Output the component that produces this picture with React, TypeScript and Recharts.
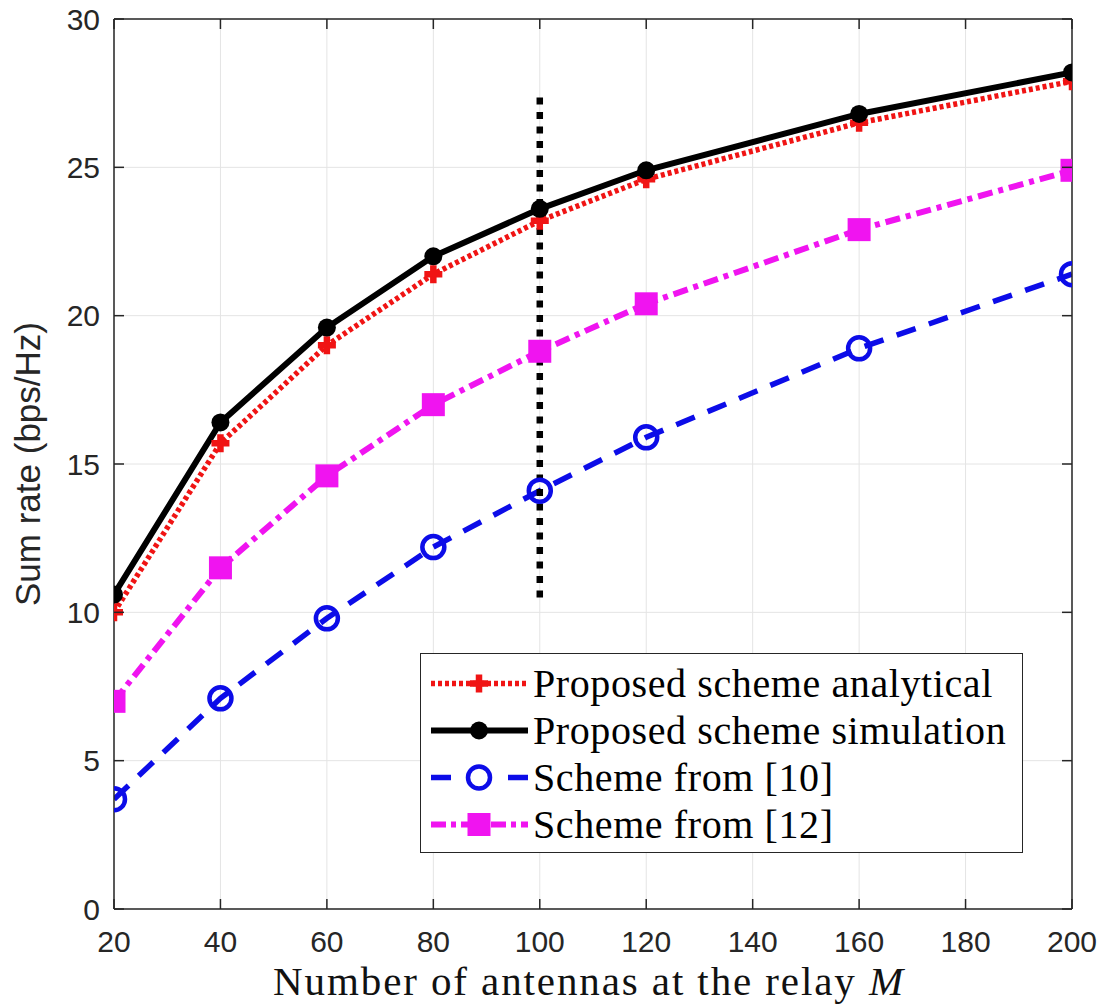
import React from 'react';
import { LineChart, Line, XAxis, YAxis, CartesianGrid, Legend, Label } from 'recharts';

// ---- data ----
const antennas = [20, 40, 60, 80, 100, 120, 160, 200];
const analytical = [10.0, 15.7, 19.0, 21.4, 23.2, 24.6, 26.5, 27.9];
const simulation = [10.6, 16.4, 19.6, 22.0, 23.6, 24.9, 26.8, 28.2];
const scheme10 = [3.7, 7.1, 9.8, 12.2, 14.1, 15.9, 18.9, 21.4];
const scheme12 = [7.0, 11.5, 14.6, 17.0, 18.8, 20.4, 22.9, 24.9];
const xTicks = [20, 40, 60, 80, 100, 120, 140, 160, 180, 200];
const yTicks = [0, 5, 10, 15, 20, 25, 30];
const markerX = [100, 100];
const markerY = [10.5, 27.6];
const seriesNames = [
  'Proposed scheme analytical',
  'Proposed scheme simulation',
  'Scheme from [10]',
  'Scheme from [12]',
];
const xLabelText = 'Number of antennas at the relay ';
const xLabelVar = 'M';
const yLabelText = 'Sum rate (bps/Hz)';

const RED = '#f01414';
const BLACK = '#000000';
const BLUE = '#0c0ce8';
const MAGENTA = '#f014f0';
const AXIS = '#262626';

const rows = antennas.map((m, i) => ({ m, analytical: analytical[i], simulation: simulation[i], s10: scheme10[i], s12: scheme12[i] }));
const markerRows = markerX.map((m, i) => ({ m, v: markerY[i] }));

const TICK_FONT = '"Liberation Sans", Arial, Helvetica, sans-serif';
const SERIF = '"Liberation Serif", "Times New Roman", serif';

const plusPath = (cx: number, cy: number, s: number) => `M${cx - s},${cy}H${cx + s}M${cx},${cy - s}V${cy + s}`;

const PlusDot = (props: any) => {
  const { cx, cy, index } = props;
  if (cx == null || cy == null) return <g key={`p-${index}`} />;
  return <path key={`p-${index}`} d={plusPath(cx, cy, 9)} stroke={RED} strokeWidth={6.5} fill="none" />;
};
const CircleDot = (props: any) => {
  const { cx, cy, index } = props;
  if (cx == null || cy == null) return <g key={`c-${index}`} />;
  return <circle key={`c-${index}`} cx={cx} cy={cy} r={9} fill={BLACK} />;
};
const OpenDot = (props: any) => {
  const { cx, cy, index } = props;
  if (cx == null || cy == null) return <g key={`o-${index}`} />;
  return <circle key={`o-${index}`} cx={cx} cy={cy} r={11} fill="none" stroke={BLUE} strokeWidth={4.5} />;
};
const SquareDot = (props: any) => {
  const { cx, cy, index } = props;
  if (cx == null || cy == null) return <g key={`s-${index}`} />;
  return <rect key={`s-${index}`} x={cx - 11.5} y={cy - 11.5} width={23} height={23} fill={MAGENTA} />;
};

const BottomTick = (props: any) => {
  const { x, y, payload } = props;
  return (
    <g>
      <line x1={x} y1={y} x2={x} y2={y - 10} stroke={AXIS} strokeWidth={1.5} />
      <text x={x} y={y + 32} dy="0.355em" textAnchor="middle" fontSize={30} fontFamily={TICK_FONT} fill={AXIS}>
        {payload.value}
      </text>
    </g>
  );
};
const LeftTick = (props: any) => {
  const { x, y, payload } = props;
  return (
    <g>
      <line x1={x} y1={y} x2={x + 10} y2={y} stroke={AXIS} strokeWidth={1.5} />
      <text x={x - 14} y={y} dy="0.355em" textAnchor="end" fontSize={30} fontFamily={TICK_FONT} fill={AXIS}>
        {payload.value}
      </text>
    </g>
  );
};
const TopTick = (props: any) => {
  const { x, y } = props;
  return <line x1={x} y1={y} x2={x} y2={y + 10} stroke={AXIS} strokeWidth={1.5} />;
};
const RightTick = (props: any) => {
  const { x, y } = props;
  return <line x1={x} y1={y} x2={x - 10} y2={y} stroke={AXIS} strokeWidth={1.5} />;
};

const XLabel = (props: any) => {
  const vb = props.viewBox || { x: 0, y: 0, width: 0, height: 0 };
  const cx = vb.x + vb.width / 2 - 4;
  return (
    <text x={cx} y={vb.y + 86} textAnchor="middle" fontSize={41} fontFamily={SERIF} fill="#111" letterSpacing={1.9}>
      <tspan>{xLabelText}</tspan>
      <tspan fontStyle="italic">{xLabelVar}</tspan>
    </text>
  );
};
const YLabel = (props: any) => {
  const vb = props.viewBox || { x: 0, y: 0, width: 0, height: 0 };
  const cx = vb.x + 27;
  const cy = vb.y + vb.height / 2;
  return (
    <text x={cx} y={cy} transform={`rotate(-90, ${cx}, ${cy})`} textAnchor="middle" dominantBaseline="central" fontSize={35} fontFamily={TICK_FONT} fill={AXIS}>
      {yLabelText}
    </text>
  );
};

const LegendSample = ({ idx }: { idx: number }) => {
  const y = 23.5;
  if (idx === 0) {
    return (
      <svg width={112} height={47}>
        <line x1={10} y1={y} x2={107} y2={y} stroke={RED} strokeWidth={5.5} strokeDasharray="4 3" />
        <path d={plusPath(58, y, 9)} stroke={RED} strokeWidth={6.5} />
      </svg>
    );
  }
  if (idx === 1) {
    return (
      <svg width={112} height={47}>
        <line x1={10} y1={y} x2={107} y2={y} stroke={BLACK} strokeWidth={6} />
        <circle cx={58} cy={y} r={9} fill={BLACK} />
      </svg>
    );
  }
  if (idx === 2) {
    return (
      <svg width={112} height={47}>
        <line x1={10} y1={y} x2={107} y2={y} stroke={BLUE} strokeWidth={5.5} strokeDasharray="20 57 20" />
        <circle cx={58} cy={y} r={11} fill="none" stroke={BLUE} strokeWidth={4.5} />
      </svg>
    );
  }
  return (
    <svg width={112} height={47}>
      <line x1={10} y1={y} x2={107} y2={y} stroke={MAGENTA} strokeWidth={6} strokeDasharray="15 5 5 5" />
      <rect x={46.5} y={y - 11.5} width={23} height={23} fill={MAGENTA} />
    </svg>
  );
};

const LegendBox = () => (
  <div
    style={{
      width: 603,
      height: 200,
      boxSizing: 'border-box',
      border: `1.5px solid ${AXIS}`,
      background: '#fff',
      paddingTop: 6,
    }}
  >
    {seriesNames.map((name, i) => (
      <div key={name} style={{ display: 'flex', alignItems: 'center', height: 47 }}>
        <LegendSample idx={i} />
        <span style={{ fontFamily: SERIF, fontSize: 40, letterSpacing: 0.6, lineHeight: '47px', color: '#000', whiteSpace: 'nowrap' }}>
          {name}
        </span>
      </div>
    ))}
  </div>
);

export default function App() {
  return (
    <div style={{ position: 'absolute', left: 0, top: 0, width: 1101, height: 1005, background: '#fff' }}>
      <LineChart width={1101} height={1005} margin={{ top: 18, right: 28, bottom: 0, left: 0 }}>
        <CartesianGrid stroke="#e4e4e4" strokeWidth={1} />
        <XAxis
          dataKey="m"
          type="number"
          domain={[20, 200]}
          ticks={xTicks}
          interval={0}
          height={96}
          tickSize={0}
          tickMargin={0}
          tick={<BottomTick />}
          axisLine={{ stroke: AXIS, strokeWidth: 1.5 }}
          allowDataOverflow
        >
          <Label content={<XLabel />} />
        </XAxis>
        <XAxis
          xAxisId="top"
          orientation="top"
          dataKey="m"
          type="number"
          domain={[20, 200]}
          ticks={xTicks}
          interval={0}
          height={1}
          tickSize={0}
          tickMargin={0}
          tick={<TopTick />}
          axisLine={{ stroke: AXIS, strokeWidth: 1.5 }}
          allowDataOverflow
        />
        <YAxis
          type="number"
          domain={[0, 30]}
          ticks={yTicks}
          interval={0}
          width={114}
          tickSize={0}
          tickMargin={0}
          tick={<LeftTick />}
          axisLine={{ stroke: AXIS, strokeWidth: 1.5 }}
          allowDataOverflow
        >
          <Label content={<YLabel />} />
        </YAxis>
        <YAxis
          yAxisId="right"
          orientation="right"
          type="number"
          domain={[0, 30]}
          ticks={yTicks}
          interval={0}
          width={1}
          tickSize={0}
          tickMargin={0}
          tick={<RightTick />}
          axisLine={{ stroke: AXIS, strokeWidth: 1.5 }}
          allowDataOverflow
        />
        <Line data={rows} dataKey="analytical" type="linear" stroke={RED} strokeWidth={5.5} strokeDasharray="4 3" dot={PlusDot} activeDot={false} isAnimationActive={false} />
        <Line data={rows} dataKey="simulation" type="linear" stroke={BLACK} strokeWidth={6} dot={CircleDot} activeDot={false} isAnimationActive={false} />
        <Line data={rows} dataKey="s10" type="linear" stroke={BLUE} strokeWidth={5.5} strokeDasharray="20 14" dot={OpenDot} activeDot={false} isAnimationActive={false} />
        <Line data={rows} dataKey="s12" type="linear" stroke={MAGENTA} strokeWidth={6} strokeDasharray="15 6 5 6" dot={SquareDot} activeDot={false} isAnimationActive={false} />
        <Line data={markerRows} dataKey="v" type="linear" stroke={BLACK} strokeWidth={6.5} strokeDasharray="7 7.5" dot={false} activeDot={false} isAnimationActive={false} />
        <Legend
          layout="horizontal"
          verticalAlign="middle"
          align="center"
          content={<LegendBox />}
          wrapperStyle={{ left: 420, top: 653, width: 603, height: 200 }}
        />
      </LineChart>
    </div>
  );
}
